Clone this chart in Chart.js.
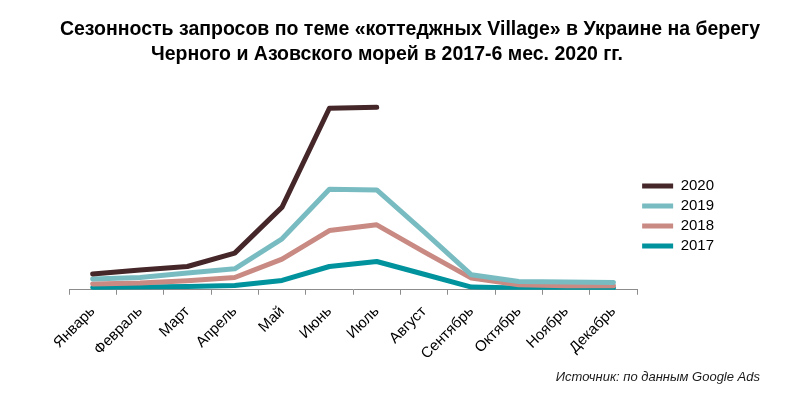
<!DOCTYPE html>
<html>
<head>
<meta charset="utf-8">
<script src="https://cdn.jsdelivr.net/npm/chart.js@4"></script>
<style>
html,body{margin:0;padding:0;background:#fff;}
#wrap{width:788px;height:397px;position:relative;}
</style>
</head>
<body>
<div id="wrap"><canvas id="c"></canvas></div>
<script>
const months = ["Январь","Февраль","Март","Апрель","Май","Июнь","Июль","Август","Сентябрь","Октябрь","Ноябрь","Декабрь"];
const s2020 = [15.7, 19.7, 23.3, 36.7, 82.7, 181.7, 182.7, null, null, null, null, null];
const s2019 = [10.7, 12.3, 16.7, 21, 51, 100.7, 100, 58, 15, 8.3, 7.7, 7.3];
const s2018 = [5.7, 6.7, 9, 12.3, 30.7, 59.3, 65, 38, 11.7, 5, 4, 4];
const s2017 = [2.3, 2.7, 3.3, 4.3, 9.3, 23.3, 28.3, 15.5, 2.7, 1.7, 1.7, 1.7];
const titleLines = ["Сезонность запросов по теме «коттеджных Village» в Украине на берегу", "Черного и Азовского морей в 2017-6 мес. 2020 гг."];
const sourceText = "Источник: по данным Google Ads";

const textPlugin = {
  id: 'textPlugin',
  afterDraw(chart) {
    const ctx = chart.ctx;
    ctx.save();
    ctx.fillStyle = '#000';
    ctx.textAlign = 'center';
    ctx.textBaseline = 'middle';
    ctx.font = 'bold 19.5px "Liberation Sans", Arial, sans-serif';
    ctx.fillText(titleLines[0], 410, 30);
    ctx.fillText(titleLines[1], 387, 55);
    ctx.font = 'italic 13px "Liberation Sans", Arial, sans-serif';
    ctx.fillStyle = '#1a1a1a';
    ctx.textAlign = 'right';
    ctx.fillText(sourceText, 760, 377);
    ctx.restore();
  }
};

function ds(label, data, color) {
  return {label, data, borderColor: color, backgroundColor: color, borderWidth: 5,
    pointRadius: 0, pointHoverRadius: 0, tension: 0, fill: false,
    borderCapStyle: 'round', borderJoinStyle: 'round', spanGaps: false};
}

new Chart(document.getElementById('c'), {
  type: 'line',
  data: {
    labels: months,
    datasets: [
      ds('2020', s2020, '#45272a'),
      ds('2019', s2019, '#78bcc2'),
      ds('2018', s2018, '#c98a83'),
      ds('2017', s2017, '#00939d')
    ]
  },
  options: {
    responsive: true,
    maintainAspectRatio: false,
    animation: false,
    events: [],
    layout: {padding: {left: 69, right: 64, top: 100, bottom: 26}},
    plugins: {
      title: {display: false},
      legend: {
        position: 'right',
        align: 'start',
        title: {display: true, text: ' ', font: {size: 12, lineHeight: 1.2}, padding: {top: 59, bottom: 0}},
        labels: {
          usePointStyle: true, pointStyle: 'line', pointStyleWidth: 31,
          boxHeight: 5, padding: 5,
          color: '#000',
          font: {family: '"Liberation Sans", Arial, sans-serif', size: 15}
        }
      },
      tooltip: {enabled: false}
    },
    scales: {
      x: {
        offset: true,
        grid: {display: true, offset: true, drawOnChartArea: false, drawTicks: true, tickLength: 5, color: '#8c8c8c'},
        border: {display: true, color: '#8c8c8c', width: 1},
        ticks: {
          maxRotation: 45, minRotation: 45, autoSkip: false, padding: 8,
          color: '#000',
          font: {family: '"Liberation Sans", Arial, sans-serif', size: 15}
        }
      },
      y: {
        display: false,
        min: 0,
        max: 190
      }
    }
  },
  plugins: [textPlugin]
});
</script>
</body>
</html>
